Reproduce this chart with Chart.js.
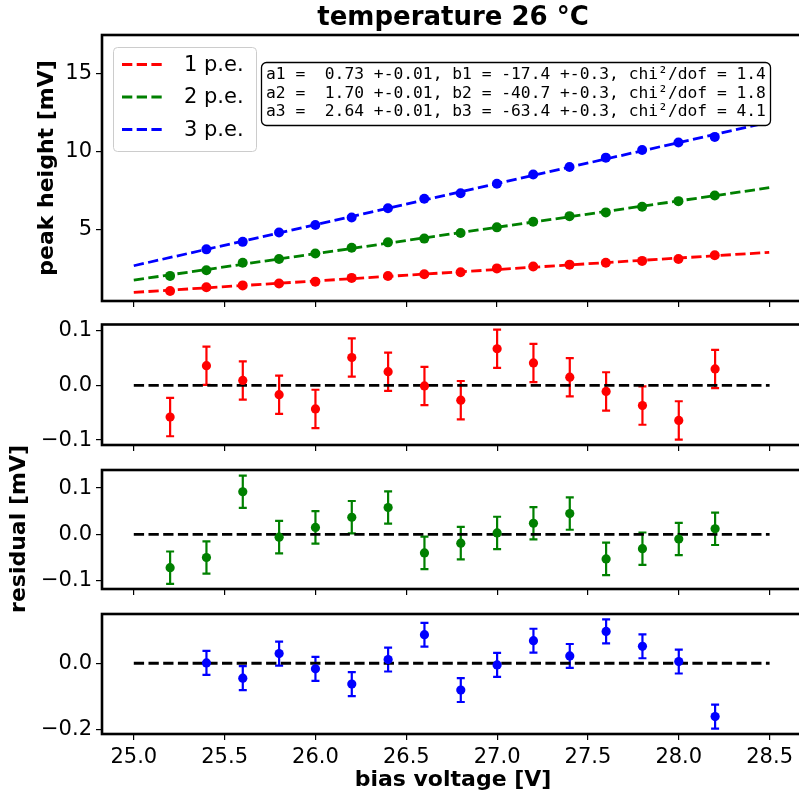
<!DOCTYPE html>
<html>
<head>
<meta charset="utf-8">
<script src="https://cdn.jsdelivr.net/npm/chart.js@4.4.1/dist/chart.umd.min.js"></script>
<style>
  html, body { margin: 0; padding: 0; background: #fff; overflow: hidden; }
  #wrap { position: relative; width: 799px; height: 798px; overflow: hidden; }
  canvas { position: absolute; left: 0; top: 0; }
</style>
</head>
<body>
<div id="wrap">
  <canvas id="c1" width="806" height="798"></canvas>
  <canvas id="c2" width="806" height="798"></canvas>
  <canvas id="c3" width="806" height="798"></canvas>
  <canvas id="c4" width="806" height="798"></canvas>
</div>
<script>
// bias voltage of the measurements
const voltage = [25.2, 25.4, 25.6, 25.8, 26.0, 26.2, 26.4, 26.6, 26.8, 27.0, 27.2, 27.4, 27.6, 27.8, 28.0, 28.2];
const voltage3 = [25.4, 25.6, 25.8, 26.0, 26.2, 26.4, 26.6, 26.8, 27.0, 27.2, 27.4, 27.6, 27.8, 28.0, 28.2];

// peak heights [mV]
const peak1 = [1.09, 1.33, 1.45, 1.57, 1.69, 1.93, 2.05, 2.17, 2.29, 2.54, 2.66, 2.78, 2.90, 3.02, 3.14, 3.38];
const peak2 = [2.06, 2.42, 2.90, 3.14, 3.50, 3.86, 4.21, 4.45, 4.81, 5.17, 5.53, 5.89, 6.13, 6.49, 6.85, 7.21];
const peak3 = [3.76, 4.24, 4.84, 5.32, 5.80, 6.40, 7.00, 7.36, 7.97, 8.56, 9.04, 9.64, 10.13, 10.61, 10.97];

// fitted lines, end points
const fitX = [25.0, 28.5];
const fit1 = [1.00, 3.57];
const fit2 = [1.79, 7.71];
const fit3 = [2.71, 11.92];

// residuals [mV] and their errors
const res1 = [-0.058, 0.036, 0.009, -0.017, -0.043, 0.051, 0.025, -0.001, -0.027, 0.067, 0.041, 0.015, -0.011, -0.037, -0.064, 0.030];
const res2 = [-0.072, -0.050, 0.092, -0.006, 0.015, 0.037, 0.058, -0.040, -0.019, 0.003, 0.024, 0.045, -0.053, -0.031, -0.010, 0.012];
const res3 = [0.001, -0.045, 0.029, -0.017, -0.063, 0.011, 0.086, -0.081, -0.005, 0.068, 0.022, 0.096, 0.051, 0.005, -0.161];
const err1 = [0.035, 0.035, 0.035, 0.035, 0.035, 0.035, 0.035, 0.035, 0.035, 0.035, 0.035, 0.035, 0.035, 0.035, 0.035, 0.035];
const err2 = [0.035, 0.035, 0.035, 0.035, 0.035, 0.035, 0.035, 0.035, 0.035, 0.035, 0.035, 0.035, 0.035, 0.035, 0.035, 0.035];
const err3 = [0.036, 0.036, 0.036, 0.036, 0.036, 0.036, 0.036, 0.036, 0.036, 0.036, 0.036, 0.036, 0.036, 0.036, 0.036];

const xTicks = [25.0, 25.5, 26.0, 26.5, 27.0, 27.5, 28.0, 28.5];
const peakTicks = [5, 10, 15];
const resTicks = [-0.1, 0.0, 0.1];
const res3Ticks = [-0.2, 0.0];

const seriesLabels = ['1 p.e.', '2 p.e.', '3 p.e.'];
const fitText = [
  'a1 =  0.73 +-0.01, b1 = -17.4 +-0.3, chi\u00b2/dof = 1.4',
  'a2 =  1.70 +-0.01, b2 = -40.7 +-0.3, chi\u00b2/dof = 1.8',
  'a3 =  2.64 +-0.01, b3 = -63.4 +-0.3, chi\u00b2/dof = 4.1'
];

const RED = '#ff0000', GREEN = '#008000', BLUE = '#0000ff';
const DASH = [10.3, 4.4];
const FONT = "'DejaVu Sans', sans-serif";
Chart.defaults.font.family = FONT;

const pts = (xs, ys) => xs.map((x, i) => ({ x: x, y: ys[i] }));
const fmt = v => (v < 0 ? '\u2212' : '') + Math.abs(v).toFixed(1);

// black frame round the plot area
const frame = {
  id: 'frame',
  afterDraw(c) {
    const a = c.chartArea, ctx = c.ctx;
    ctx.save();
    ctx.lineWidth = 2.6;
    ctx.strokeStyle = '#000';
    ctx.strokeRect(a.left, a.top, a.right - a.left, a.bottom - a.top);
    ctx.restore();
  }
};

// vertical error bars with caps, under the markers
const errorBars = {
  id: 'errorBars',
  beforeDatasetsDraw(c) {
    const ctx = c.ctx, xs = c.scales.x, ys = c.scales.y;
    c.data.datasets.forEach(ds => {
      if (!ds.errors) return;
      ctx.save();
      ctx.strokeStyle = ds.backgroundColor;
      ctx.lineWidth = 2.2;
      ds.data.forEach((p, i) => {
        const x = xs.getPixelForValue(p.x);
        const lo = ys.getPixelForValue(p.y - ds.errors[i]);
        const hi = ys.getPixelForValue(p.y + ds.errors[i]);
        ctx.beginPath();
        ctx.moveTo(x, lo); ctx.lineTo(x, hi);
        ctx.moveTo(x - 4, lo); ctx.lineTo(x + 4, lo);
        ctx.moveTo(x - 4, hi); ctx.lineTo(x + 4, hi);
        ctx.stroke();
      });
      ctx.restore();
    });
  }
};

function text(ctx, str, x, y, font, align, rot) {
  ctx.save();
  ctx.translate(x, y);
  if (rot) ctx.rotate(rot);
  ctx.font = font;
  ctx.fillStyle = '#000';
  ctx.textAlign = align || 'center';
  ctx.textBaseline = 'middle';
  ctx.fillText(str, 0, 0);
  ctx.restore();
}

// title, legend and fit box of the top panel
const topDecor = {
  id: 'topDecor',
  afterDraw(c) {
    const ctx = c.ctx;
    text(ctx, 'temperature 26 \u00b0C', 453, 18, 'bold 26px ' + FONT);
    text(ctx, 'peak height [mV]', 47, 168, 'bold 22px ' + FONT, 'center', -Math.PI / 2);

    ctx.save();
    ctx.beginPath();
    ctx.roundRect(113.5, 47.5, 143, 104, 4);
    ctx.fillStyle = 'rgba(255,255,255,0.8)';
    ctx.fill();
    ctx.strokeStyle = '#cccccc';
    ctx.lineWidth = 1;
    ctx.stroke();
    const cols = [RED, GREEN, BLUE];
    seriesLabels.forEach((lab, i) => {
      const y = 64.5 + i * 32.5;
      ctx.beginPath();
      ctx.setLineDash(DASH);
      ctx.strokeStyle = cols[i];
      ctx.lineWidth = 2.8;
      ctx.moveTo(122, y); ctx.lineTo(164, y);
      ctx.stroke();
      ctx.setLineDash([]);
      text(ctx, lab, 184, y + 1, '21px ' + FONT, 'left');
    });

    ctx.beginPath();
    ctx.roundRect(261.5, 62.5, 509, 63, 5);
    ctx.fillStyle = '#fff';
    ctx.fill();
    ctx.strokeStyle = '#000';
    ctx.lineWidth = 1.3;
    ctx.stroke();
    ctx.restore();
    fitText.forEach((t, i) => text(ctx, t, 266, 75 + i * 18.5, "16.3px 'DejaVu Sans Mono', monospace", 'left'));
  }
};

const labelPlugin = (str, x, y, font, rot) => ({
  id: 'lab' + str.length,
  afterDraw(c) { text(c.ctx, str, x, y, font, 'center', rot); }
});

function makePanel(id, cfg) {
  return new Chart(document.getElementById(id), {
    type: 'scatter',
    data: { datasets: cfg.datasets },
    options: {
      responsive: false,
      animation: false,
      devicePixelRatio: 1,
      layout: { padding: { left: 22, right: 1.4, top: cfg.top, bottom: 798 - cfg.bottom - 40 } },
      plugins: { legend: { display: false }, title: { display: false }, tooltip: { enabled: false } },
      scales: {
        x: {
          type: 'linear', min: 24.825, max: 28.675,
          afterBuildTicks: s => { s.ticks = xTicks.map(v => ({ value: v })); },
          afterFit: s => { s.height = 40; },
          border: { display: false },
          grid: { drawOnChartArea: false, drawTicks: true, tickLength: 6, color: '#000', lineWidth: 1.2 },
          ticks: { display: cfg.xLabels, color: '#000', font: { size: 21 }, padding: 5, maxRotation: 0, autoSkip: false,
                   callback: v => v.toFixed(1) }
        },
        y: {
          type: 'linear', min: cfg.yMin, max: cfg.yMax,
          afterBuildTicks: s => { s.ticks = cfg.yTicks.map(v => ({ value: v })); },
          afterFit: s => { s.width = 80; },
          border: { display: false },
          grid: { drawOnChartArea: false, drawTicks: true, tickLength: 6, color: '#000', lineWidth: 1.2 },
          ticks: { color: '#000', font: { size: 21 }, padding: 4, callback: cfg.yFmt }
        }
      }
    },
    plugins: [errorBars, frame].concat(cfg.plugins || [])
  });
}

function fitLine(ys, color, label) {
  return { label: label, data: pts(fitX, ys), showLine: true, borderColor: color, borderWidth: 2.8,
           borderDash: DASH, pointRadius: 0, fill: false };
}
function dots(xs, ys, color, r, errs) {
  return { data: pts(xs, ys), backgroundColor: color, borderColor: color, borderWidth: 0,
           pointRadius: r, showLine: false, errors: errs };
}
function zeroLine() {
  return { data: pts(fitX, [0, 0]), showLine: true, borderColor: '#000', borderWidth: 2.8,
           borderDash: DASH, pointRadius: 0, fill: false };
}

makePanel('c1', {
  top: 35, bottom: 301, yMin: 0.45, yMax: 17.5, yTicks: peakTicks, xLabels: false,
  yFmt: v => String(v),
  datasets: [
    fitLine(fit1, RED, seriesLabels[0]), fitLine(fit2, GREEN, seriesLabels[1]), fitLine(fit3, BLUE, seriesLabels[2]),
    dots(voltage, peak1, RED, 5), dots(voltage, peak2, GREEN, 5), dots(voltage3, peak3, BLUE, 5)
  ],
  plugins: [topDecor]
});

makePanel('c2', {
  top: 324.5, bottom: 445, yMin: -0.109, yMax: 0.1113, yTicks: resTicks, xLabels: false, yFmt: fmt,
  datasets: [dots(voltage, res1, RED, 4.6, err1), zeroLine()]
});

makePanel('c3', {
  top: 470, bottom: 589, yMin: -0.118, yMax: 0.139, yTicks: resTicks, xLabels: false, yFmt: fmt,
  datasets: [dots(voltage, res2, GREEN, 4.6, err2), zeroLine()],
  plugins: [labelPlugin('residual [mV]', 19, 529, 'bold 22px ' + FONT, -Math.PI / 2)]
});

makePanel('c4', {
  top: 614, bottom: 734, yMin: -0.2135, yMax: 0.1485, yTicks: res3Ticks, xLabels: true, yFmt: fmt,
  datasets: [dots(voltage3, res3, BLUE, 4.6, err3), zeroLine()],
  plugins: [labelPlugin('bias voltage [V]', 453, 780, 'bold 22px ' + FONT)]
});
</script>
</body>
</html>
